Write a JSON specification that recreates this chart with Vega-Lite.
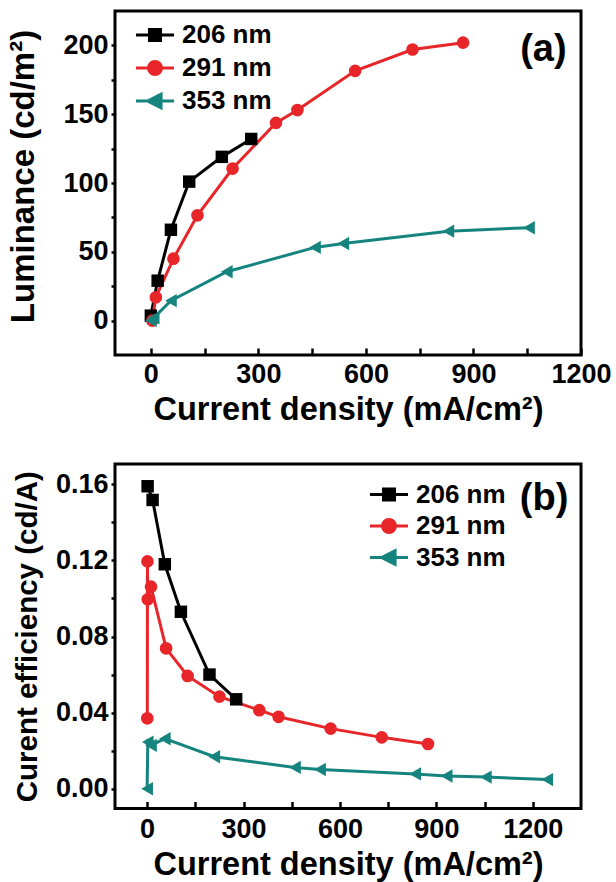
{
  "$schema": "https://vega.github.io/schema/vega-lite/v6.json",
  "background": "white",
  "padding": {"left": 6, "top": 9, "right": 0, "bottom": 0},
  "spacing": 35,
  "datasets": {
    "lum": [
      {"j": 0, "v": 3.6, "s": "206 nm"},
      {"j": 19, "v": 29, "s": "206 nm"},
      {"j": 56, "v": 66, "s": "206 nm"},
      {"j": 107, "v": 101, "s": "206 nm"},
      {"j": 198, "v": 119, "s": "206 nm"},
      {"j": 280, "v": 132, "s": "206 nm"},
      {"j": 4, "v": 0, "s": "291 nm"},
      {"j": 14, "v": 17, "s": "291 nm"},
      {"j": 63, "v": 45, "s": "291 nm"},
      {"j": 130, "v": 76.5, "s": "291 nm"},
      {"j": 228, "v": 110.5, "s": "291 nm"},
      {"j": 349, "v": 143.7, "s": "291 nm"},
      {"j": 409, "v": 153, "s": "291 nm"},
      {"j": 570, "v": 181.5, "s": "291 nm"},
      {"j": 730, "v": 197, "s": "291 nm"},
      {"j": 871, "v": 202, "s": "291 nm"},
      {"j": 0, "v": 0, "s": "353 nm"},
      {"j": 8, "v": 2, "s": "353 nm"},
      {"j": 56, "v": 14.5, "s": "353 nm"},
      {"j": 212, "v": 35.5, "s": "353 nm"},
      {"j": 458, "v": 53.2, "s": "353 nm"},
      {"j": 537, "v": 56, "s": "353 nm"},
      {"j": 830, "v": 65, "s": "353 nm"},
      {"j": 1055, "v": 67.5, "s": "353 nm"}
    ],
    "eff": [
      {"j": 1.5, "v": 0.159, "s": "206 nm"},
      {"j": 17, "v": 0.1518, "s": "206 nm"},
      {"j": 55, "v": 0.118, "s": "206 nm"},
      {"j": 105, "v": 0.093, "s": "206 nm"},
      {"j": 194, "v": 0.060, "s": "206 nm"},
      {"j": 277, "v": 0.047, "s": "206 nm"},
      {"j": 0.5, "v": 0.037, "s": "291 nm"},
      {"j": 1, "v": 0.1195, "s": "291 nm"},
      {"j": 2, "v": 0.0996, "s": "291 nm"},
      {"j": 12, "v": 0.1062, "s": "291 nm"},
      {"j": 59, "v": 0.0738, "s": "291 nm"},
      {"j": 126, "v": 0.0593, "s": "291 nm"},
      {"j": 225, "v": 0.0484, "s": "291 nm"},
      {"j": 349, "v": 0.0413, "s": "291 nm"},
      {"j": 409, "v": 0.0378, "s": "291 nm"},
      {"j": 571, "v": 0.0316, "s": "291 nm"},
      {"j": 730, "v": 0.027, "s": "291 nm"},
      {"j": 874, "v": 0.0235, "s": "291 nm"},
      {"j": 0, "v": 0.0, "s": "353 nm"},
      {"j": 2, "v": 0.0245, "s": "353 nm"},
      {"j": 12, "v": 0.0228, "s": "353 nm"},
      {"j": 55, "v": 0.0263, "s": "353 nm"},
      {"j": 209, "v": 0.0168, "s": "353 nm"},
      {"j": 460, "v": 0.0112, "s": "353 nm"},
      {"j": 538, "v": 0.0101, "s": "353 nm"},
      {"j": 834, "v": 0.0078, "s": "353 nm"},
      {"j": 932, "v": 0.0067, "s": "353 nm"},
      {"j": 1054, "v": 0.0061, "s": "353 nm"},
      {"j": 1245, "v": 0.0048, "s": "353 nm"}
    ],
    "lab": [{"t": "(a)"}, {"t": "(b)"}]
  },
  "vconcat": [
    {
      "width": 466,
      "height": 344,
      "layer": [
        {
          "data": {"name": "lum"},
          "mark": {"type": "line", "strokeWidth": 3},
          "encoding": {
            "x": {"field": "j", "type": "quantitative", "scale": {"domain": [-100, 1200], "nice": false, "zero": false},
              "axis": {"values": [0, 150, 300, 450, 600, 750, 900, 1050, 1200], "format": "d", "labelExpr": "datum.value % 300 == 0 ? datum.label : ''", "tickSize": -7, "labelPadding": 13, "title": "Current density (mA/cm²)", "titleFontSize": 32.5, "titlePadding": 6}},
            "y": {"field": "v", "type": "quantitative", "scale": {"domain": [-25, 225], "nice": false, "zero": false},
              "axis": {"values": [0, 25, 50, 75, 100, 125, 150, 175, 200], "labelExpr": "datum.value % 50 == 0 ? datum.label : ''", "tickSize": 4, "labelPadding": 3, "title": "Luminance (cd/m²)", "titleFontSize": 33, "titlePadding": 22, "titleY": 165}},
            "color": {"field": "s", "type": "nominal", "scale": {"domain": ["206 nm", "291 nm", "353 nm"], "range": ["#000000", "#E8262A", "#15847F"]},
              "legend": {"orient": "none", "legendX": 25, "legendY": 9, "title": null, "symbolSize": 729, "symbolStrokeWidth": 3, "labelFontSize": 26, "labelOffset": 12, "rowPadding": 5,
                "encode": {"symbols": {"update": {
                  "shape": {"signal": "datum.value === '206 nm' ? 'M-1.41,0H1.41M-0.41,-0.41H0.41V0.41H-0.41Z' : datum.value === '291 nm' ? 'M-1.41,0H1.41M-0.48,0A0.48,0.48,0,1,0,0.48,0A0.48,0.48,0,1,0,-0.48,0Z' : 'M-1.41,0H1.41M-0.55,0L0.45,-0.5L0.45,0.5Z'"},
                  "fill": {"signal": "datum.value === '206 nm' ? '#000000' : datum.value === '291 nm' ? '#E8262A' : '#15847F'"},
                  "stroke": {"signal": "datum.value === '206 nm' ? '#000000' : datum.value === '291 nm' ? '#E8262A' : '#15847F'"},
                  "strokeWidth": {"value": 3}
                }}}}}
          }
        },
        {
          "data": {"name": "lum"},
          "transform": [{"filter": "datum.s === '206 nm'"}],
          "mark": {"type": "point", "filled": true, "opacity": 1, "size": 155, "shape": "square", "color": "#000000"},
          "encoding": {"x": {"field": "j", "type": "quantitative"}, "y": {"field": "v", "type": "quantitative"}}
        },
        {
          "data": {"name": "lum"},
          "transform": [{"filter": "datum.s === '291 nm'"}],
          "mark": {"type": "point", "filled": true, "opacity": 1, "size": 160, "shape": "circle", "color": "#E8262A"},
          "encoding": {"x": {"field": "j", "type": "quantitative"}, "y": {"field": "v", "type": "quantitative"}}
        },
        {
          "data": {"name": "lum"},
          "transform": [{"filter": "datum.s === '353 nm'"}],
          "mark": {"type": "point", "filled": true, "opacity": 1, "size": 180, "shape": "triangle-left", "color": "#15847F"},
          "encoding": {"x": {"field": "j", "type": "quantitative"}, "y": {"field": "v", "type": "quantitative"}}
        },
        {
          "data": {"name": "lab"},
          "transform": [{"filter": "datum.t === '(a)'"}],
          "mark": {"type": "text", "font": "Liberation Sans", "fontWeight": "bold", "fontSize": 38, "align": "center", "baseline": "middle", "color": "black"},
          "encoding": {"x": {"datum": 1095}, "y": {"datum": 197}, "text": {"field": "t"}}
        }
      ]
    },
    {
      "width": 466,
      "height": 344.5,
      "layer": [
        {
          "data": {"name": "eff"},
          "mark": {"type": "line", "strokeWidth": 3},
          "encoding": {
            "x": {"field": "j", "type": "quantitative", "scale": {"domain": [-100, 1350], "nice": false, "zero": false},
              "axis": {"values": [0, 150, 300, 450, 600, 750, 900, 1050, 1200], "format": "d", "labelExpr": "datum.value % 300 == 0 ? datum.label : ''", "tickSize": -7, "labelPadding": 15, "title": "Current density (mA/cm²)", "titleFontSize": 32.5, "titlePadding": 6}},
            "y": {"field": "v", "type": "quantitative", "scale": {"domain": [-0.0104, 0.1707], "nice": false, "zero": false},
              "axis": {"values": [0, 0.02, 0.04, 0.06, 0.08, 0.1, 0.12, 0.14, 0.16], "format": ".2f", "labelExpr": "round(datum.value * 100) % 4 == 0 ? datum.label : ''", "tickSize": 4, "labelPadding": 3, "title": "Curent efficiency (cd/A)", "titleFontSize": 29.5, "titlePadding": 13}},
            "color": {"field": "s", "type": "nominal", "scale": {"domain": ["206 nm", "291 nm", "353 nm"], "range": ["#000000", "#E8262A", "#15847F"]},
              "legend": {"orient": "none", "legendX": 259, "legendY": 15.5, "title": null, "symbolSize": 729, "symbolStrokeWidth": 3, "labelFontSize": 26, "labelOffset": 12, "rowPadding": 3.5,
                "encode": {"symbols": {"update": {
                  "shape": {"signal": "datum.value === '206 nm' ? 'M-1.41,0H1.41M-0.41,-0.41H0.41V0.41H-0.41Z' : datum.value === '291 nm' ? 'M-1.41,0H1.41M-0.48,0A0.48,0.48,0,1,0,0.48,0A0.48,0.48,0,1,0,-0.48,0Z' : 'M-1.41,0H1.41M-0.55,0L0.45,-0.5L0.45,0.5Z'"},
                  "fill": {"signal": "datum.value === '206 nm' ? '#000000' : datum.value === '291 nm' ? '#E8262A' : '#15847F'"},
                  "stroke": {"signal": "datum.value === '206 nm' ? '#000000' : datum.value === '291 nm' ? '#E8262A' : '#15847F'"},
                  "strokeWidth": {"value": 3}
                }}}}}
          }
        },
        {
          "data": {"name": "eff"},
          "transform": [{"filter": "datum.s === '206 nm'"}],
          "mark": {"type": "point", "filled": true, "opacity": 1, "size": 155, "shape": "square", "color": "#000000"},
          "encoding": {"x": {"field": "j", "type": "quantitative"}, "y": {"field": "v", "type": "quantitative"}}
        },
        {
          "data": {"name": "eff"},
          "transform": [{"filter": "datum.s === '291 nm'"}],
          "mark": {"type": "point", "filled": true, "opacity": 1, "size": 160, "shape": "circle", "color": "#E8262A"},
          "encoding": {"x": {"field": "j", "type": "quantitative"}, "y": {"field": "v", "type": "quantitative"}}
        },
        {
          "data": {"name": "eff"},
          "transform": [{"filter": "datum.s === '353 nm'"}],
          "mark": {"type": "point", "filled": true, "opacity": 1, "size": 180, "shape": "triangle-left", "color": "#15847F"},
          "encoding": {"x": {"field": "j", "type": "quantitative"}, "y": {"field": "v", "type": "quantitative"}}
        },
        {
          "data": {"name": "lab"},
          "transform": [{"filter": "datum.t === '(b)'"}],
          "mark": {"type": "text", "font": "Liberation Sans", "fontWeight": "bold", "fontSize": 38, "align": "center", "baseline": "middle", "color": "black"},
          "encoding": {"x": {"datum": 1235}, "y": {"datum": 0.1523}, "text": {"field": "t"}}
        }
      ]
    }
  ],
  "resolve": {"scale": {"x": "independent", "y": "independent", "color": "independent"}, "legend": {"color": "independent"}},
  "config": {
    "view": {"stroke": "black", "strokeWidth": 3},
    "axis": {"domain": false, "grid": false, "labelFont": "Liberation Sans", "labelFontSize": 27, "labelFontWeight": "bold", "labelColor": "black", "labelFlush": false, "labelOverlap": false, "labelBound": false, "tickColor": "black", "tickWidth": 2.5, "titleFont": "Liberation Sans", "titleFontWeight": "bold", "titleColor": "black"},
    "legend": {"labelFont": "Liberation Sans", "labelFontWeight": "bold", "labelColor": "black", "padding": 0, "labelLimit": 300}
  }
}
